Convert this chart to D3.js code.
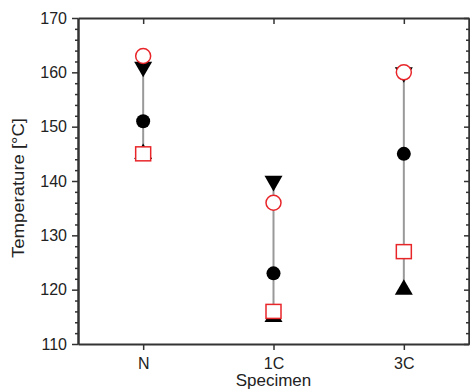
<!DOCTYPE html>
<html>
<head>
<meta charset="utf-8">
<script src="https://cdn.jsdelivr.net/npm/d3@7"></script>
<style>
  body { margin: 0; background: #fff; }
  svg text { font-family: "Liberation Sans", Arial, sans-serif; fill: #222; }
</style>
</head>
<body>
<svg id="chart" width="470" height="392"></svg>
<script>
// values
var categories = ["N", "1C", "3C"];
var triUp = [145, 115, 120];      // black up triangles
var triDown = [161, 140, 160];    // black down triangles
var dotFilled = [151, 123, 145];  // black filled circles
var squareOpen = [145, 116, 127]; // red open squares
var circleOpen = [163, 136, 160]; // red open circles
var yTicks = [110, 120, 130, 140, 150, 160, 170];

var svg = d3.select("#chart"),
    margin = { top: 18, right: 1, bottom: 48, left: 78 },
    width = 470 - margin.left - margin.right,
    height = 392 - margin.top - margin.bottom;

var x = d3.scalePoint().domain(categories).range([0, width]).padding(0.5);
var y = d3.scaleLinear().domain([110, 170]).range([height, 0]);

var g = svg.append("g")
    .attr("transform", `translate(${margin.left},${margin.top})`);

// minor ticks every 2 degrees
var minor = d3.range(110, 171, 2).filter(d => d % 10 != 0);

function styleAxis(sel) {
    sel.selectAll("path").attr("stroke", "#333").attr("stroke-width", 2);
    sel.selectAll("line").attr("stroke", "#333").attr("stroke-width", 1.5);
    sel.selectAll("text").style("font-size", "16px").attr("fill", "#222");
}

// left axis
g.append("g")
    .call(d3.axisLeft(y).tickValues(minor).tickSize(3).tickFormat("").tickSizeOuter(0))
    .call(styleAxis);
g.append("g")
    .call(d3.axisLeft(y).tickValues(yTicks).tickSize(6).tickPadding(5).tickSizeOuter(0))
    .call(styleAxis);

// right axis, ticks point inward
g.append("g")
    .attr("transform", `translate(${width},0)`)
    .call(d3.axisRight(y).tickValues(minor).tickSize(-3).tickFormat("").tickSizeOuter(0))
    .call(styleAxis);
g.append("g")
    .attr("transform", `translate(${width},0)`)
    .call(d3.axisRight(y).tickValues(yTicks).tickSize(-5).tickFormat("").tickSizeOuter(0))
    .call(styleAxis);

// bottom axis
g.append("g")
    .attr("transform", `translate(0,${height})`)
    .call(d3.axisBottom(x).tickSize(6).tickPadding(8).tickSizeOuter(0))
    .call(styleAxis);

// top axis, ticks point down
g.append("g")
    .call(d3.axisTop(x).tickSize(-6).tickFormat("").tickSizeOuter(0))
    .call(styleAxis);

// range lines
g.selectAll(".range")
    .data(categories)
    .enter().append("line")
    .attr("class", "range")
    .attr("x1", d => x(d))
    .attr("x2", d => x(d))
    .attr("y1", (d, i) => y(triUp[i]))
    .attr("y2", (d, i) => y(triDown[i]))
    .attr("stroke", "#999")
    .attr("stroke-width", 2);

var triSize = 140;

g.selectAll(".triUp")
    .data(categories)
    .enter().append("path")
    .attr("d", d3.symbol().type(d3.symbolTriangle).size(triSize))
    .attr("transform", (d, i) => `translate(${x(d)},${y(triUp[i])})`)
    .attr("fill", "#000");

g.selectAll(".triDown")
    .data(categories)
    .enter().append("path")
    .attr("d", d3.symbol().type(d3.symbolTriangle).size(triSize))
    .attr("transform", (d, i) => `translate(${x(d)},${y(triDown[i])}) rotate(180)`)
    .attr("fill", "#000");

g.selectAll(".dot")
    .data(categories)
    .enter().append("circle")
    .attr("cx", d => x(d))
    .attr("cy", (d, i) => y(dotFilled[i]))
    .attr("r", 7)
    .attr("fill", "#000");

g.selectAll(".sq")
    .data(categories)
    .enter().append("rect")
    .attr("x", d => x(d) - 7.5)
    .attr("y", (d, i) => y(squareOpen[i]) - 7)
    .attr("width", 15)
    .attr("height", 14)
    .attr("fill", "#fff")
    .attr("stroke", "#e8262a")
    .attr("stroke-width", 1.5);

g.selectAll(".ring")
    .data(categories)
    .enter().append("circle")
    .attr("cx", d => x(d))
    .attr("cy", (d, i) => y(circleOpen[i]))
    .attr("r", 7.5)
    .attr("fill", "#fff")
    .attr("stroke", "#e8262a")
    .attr("stroke-width", 1.5);

// axis titles
svg.append("text")
    .attr("x", margin.left + width / 2)
    .attr("y", 386)
    .attr("text-anchor", "middle")
    .style("font-size", "17px")
    .text("Specimen");

svg.append("text")
    .attr("transform", "translate(24,188) rotate(-90)")
    .attr("text-anchor", "middle")
    .attr("textLength", 140)
    .attr("lengthAdjust", "spacingAndGlyphs")
    .style("font-size", "16px")
    .text("Temperature [°C]");
</script>
</body>
</html>
